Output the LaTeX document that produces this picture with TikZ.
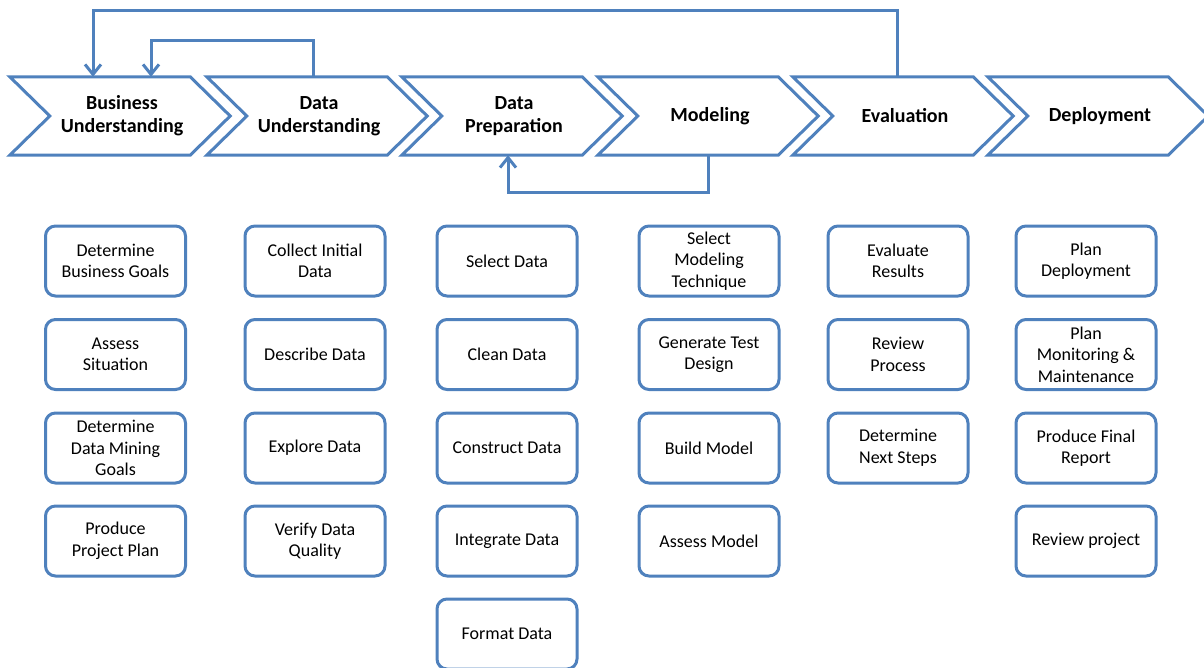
\documentclass[tikz,border=0pt]{standalone}
\usepackage{fontspec}
\setmainfont{Carlito}
\usetikzlibrary{arrows.meta,calc}
\definecolor{lineblue}{HTML}{4F81BD}
\begin{document}
\begin{tikzpicture}[x=1pt,y=-1pt,
  phase/.style={minimum width=220pt,minimum height=78pt,inner sep=0pt,align=center,
    font=\fontsize{20}{23}\selectfont\bfseries},
  chev/.style={draw=lineblue,line width=3pt,line join=miter,fill=white},
  task/.style={draw=lineblue,line width=3pt,rounded corners=10pt,minimum width=140pt,
    minimum height=70pt,inner sep=2pt,align=center,fill=white,
    font=\fontsize{18}{21.5}\selectfont},
  fb/.style={draw=lineblue,line width=3pt,-{Straight Barb[length=10pt,width=16pt,line width=3pt]}}]
\useasboundingbox (0,0) rectangle (1204,667);
% phases
\foreach \nm/\L/\txt in {bu/10/Business\\Understanding, du/207/Data\\Understanding,
  dp/402/Data\\Preparation, mo/598/Modeling, ev/793/Evaluation, de/988/Deployment}{
  \node[phase] (\nm) at (\L+110,116) {};
  \draw[chev] (\nm.north west) -- ($(\nm.north east)+(-40,0)$) -- (\nm.east)
    -- ($(\nm.south east)+(-40,0)$) -- (\nm.south west) -- ($(\nm.west)+(40,0)$) -- cycle;
  \node[phase,xshift=2pt] at (\nm) {\txt};
}
% feedback arrows
\draw[fb] ([xshift=-6pt]ev.north) -- ++(0,-66) -| ([xshift=-27pt]bu.north);
\draw[fb] ([xshift=-4pt]du.north) -- ++(0,-36) -| ([xshift=31pt]bu.north);
\draw[fb] (mo.south) -- ++(0,37) -| ([xshift=-4pt]dp.south);
% tasks
\node[task] (t11) at (115.5,261) {Determine\\Business Goals};
\node[task] (t12) at (115.5,354.5) {Assess\\Situation};
\node[task] (t13) at (115.5,448) {Determine\\Data Mining\\Goals};
\node[task] (t14) at (115.5,541) {Produce\\Project Plan};
\node[task] (t21) at (315,261) {Collect Initial\\Data};
\node[task] (t22) at (315,354.5) {Describe Data};
\node[task] (t23) at (315,448) {Explore Data};
\node[task] (t24) at (315,541) {Verify Data\\Quality};
\node[task] (t31) at (507,261) {Select Data};
\node[task] (t32) at (507,354.5) {Clean Data};
\node[task] (t33) at (507,448) {Construct Data};
\node[task] (t34) at (507,541) {Integrate Data};
\node[task] (t35) at (507,634) {Format Data};
\node[task] (t41) at (709,261) {Select\\Modeling\\Technique};
\node[task] (t42) at (709,354.5) {Generate Test\\Design};
\node[task] (t43) at (709,448) {Build Model};
\node[task] (t44) at (709,541) {Assess Model};
\node[task] (t51) at (898,261) {Evaluate\\Results};
\node[task] (t52) at (898,354.5) {Review\\Process};
\node[task] (t53) at (898,448) {Determine\\Next Steps};
\node[task] (t61) at (1086,261) {Plan\\Deployment};
\node[task] (t62) at (1086,354.5) {Plan\\Monitoring \&\\Maintenance};
\node[task] (t63) at (1086,448) {Produce Final\\Report};
\node[task] (t64) at (1086,541) {Review project};
\end{tikzpicture}
\end{document}
